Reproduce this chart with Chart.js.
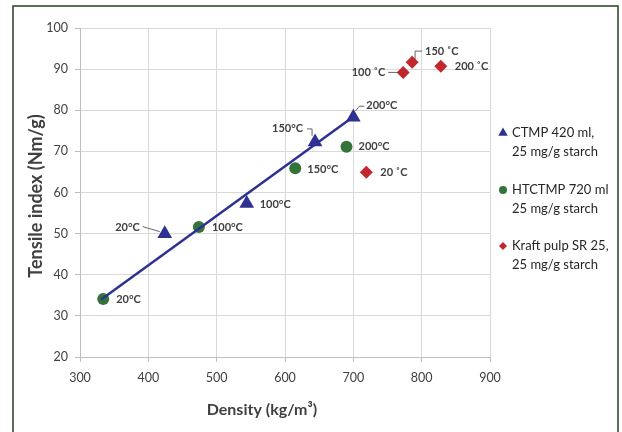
<!DOCTYPE html>
<html>
<head>
<meta charset="utf-8">
<script src="https://cdn.jsdelivr.net/npm/chart.js"></script>
<style>
  html, body { margin: 0; padding: 0; background: #fff; }
  #wrap { width: 622px; height: 432px; position: relative; }
</style>
</head>
<body>
<div id="wrap"><canvas id="tensileChart" width="622" height="432"></canvas></div>
<script>
// Tensile index vs density for three pulps, by drying temperature
const xTicks = [300, 400, 500, 600, 700, 800, 900];
const yTicks = [20, 30, 40, 50, 60, 70, 80, 90, 100];

const ctmpDensity = [424, 544, 644, 700];
const ctmpTensile = [50, 57.3, 72.3, 78.3];
const ctmpTemps = ['20°C', '100°C', '150°C', '200°C'];

const htctmpDensity = [334, 474, 615, 690];
const htctmpTensile = [34.1, 51.6, 65.9, 71.1];
const htctmpTemps = ['20°C', '100°C', '150°C', '200°C'];

const kraftDensity = [719, 773, 786, 828];
const kraftTensile = [64.9, 89.2, 91.7, 90.7];
const kraftTemps = ['20 ˚C', '100 ˚C', '150 ˚C', '200 ˚C'];

const trendDensity = [331, 700];
const trendTensile = [34.0, 78.4];

const legendLines = [
    ['CTMP 420 ml,', '25 mg/g starch'],
    ['HTCTMP 720 ml', '25 mg/g starch'],
    ['Kraft pulp SR 25,', '25 mg/g starch']
];

// label placement relative to each marker (px): text offset, alignment, optional leader path
const ctmpPlace = [
    { dx: -25, dy: -6, align: 'right', leader: [[-22, -7], [-5, -2]] },
    { dx: 13, dy: 1, align: 'left' },
    { dx: -12, dy: -13, align: 'right', leader: [[-8, -13], [-3, -13], [-3, -6]] },
    { dx: 13, dy: -12, align: 'left', leader: [[11, -11], [6, -11], [2, -6]] }
];
const htctmpPlace = [
    { dx: 13, dy: 0, align: 'left' },
    { dx: 13, dy: 0, align: 'left' },
    { dx: 12, dy: 1, align: 'left' },
    { dx: 12, dy: 0, align: 'left' }
];
const kraftPlace = [
    { dx: 14, dy: 0, align: 'left' },
    { dx: -18, dy: 0, align: 'right', leader: [[-15, 0], [-5, 0]] },
    { dx: 13, dy: -11, align: 'left', leader: [[10, -11], [3, -11], [3, -3]] },
    { dx: 14, dy: 0, align: 'left' }
];

const NAVY = '#2e3192';
const GREEN = '#34743a';
const RED = '#c1272d';
const FONT = 'Lato, "Open Sans", sans-serif';

function toPoints(xs, ys) {
    return xs.map((x, i) => ({ x: x, y: ys[i] }));
}

const pointLabels = {
    id: 'pointLabels',
    afterDatasetsDraw(chart) {
        const ctx = chart.ctx;
        const sets = [
            { idx: 1, temps: ctmpTemps, place: ctmpPlace },
            { idx: 2, temps: htctmpTemps, place: htctmpPlace },
            { idx: 3, temps: kraftTemps, place: kraftPlace }
        ];
        ctx.save();
        ctx.font = 'bold 11px ' + FONT;
        ctx.fillStyle = '#404040';
        ctx.strokeStyle = '#404040';
        ctx.lineWidth = 0.8;
        ctx.textBaseline = 'middle';
        sets.forEach(s => {
            const meta = chart.getDatasetMeta(s.idx);
            meta.data.forEach((el, i) => {
                const p = s.place[i];
                if (p.leader) {
                    ctx.beginPath();
                    p.leader.forEach((pt, k) => {
                        const fn = k === 0 ? 'moveTo' : 'lineTo';
                        ctx[fn](el.x + pt[0], el.y + pt[1]);
                    });
                    ctx.stroke();
                }
                ctx.textAlign = p.align;
                ctx.fillText(s.temps[i], el.x + p.dx, el.y + p.dy);
            });
        });
        ctx.restore();
    },
    afterDraw(chart) {
        const ctx = chart.ctx;
        ctx.save();

        // axis titles
        ctx.fillStyle = '#404040';
        ctx.textAlign = 'center';
        ctx.textBaseline = 'middle';
        ctx.save();
        ctx.font = 'bold 18px ' + FONT;
        ctx.translate(36, 196);
        ctx.rotate(-Math.PI / 2);
        ctx.fillText('Tensile index (Nm/g)', 0, 0);
        ctx.restore();
        ctx.font = 'bold 16px ' + FONT;
        ctx.fillText('Density (kg/m³)', 262, 410);

        // legend
        const markers = ['triangle', 'circle', 'rectRot'];
        const colors = [NAVY, GREEN, RED];
        const radii = [5.5, 4, 4];
        const rowY = [133, 190, 246];
        ctx.font = '13px ' + FONT;
        ctx.textAlign = 'left';
        legendLines.forEach((lines, i) => {
            ctx.fillStyle = colors[i];
            Chart.helpers.drawPoint(ctx, {
                pointStyle: markers[i], radius: radii[i], borderWidth: 0
            }, 503, rowY[i]);
            ctx.fillStyle = '#262626';
            lines.forEach((t, k) => ctx.fillText(t, 512, rowY[i] + k * 18.5));
        });

        // outer frame
        ctx.strokeStyle = '#24401f';
        ctx.lineWidth = 1.5;
        ctx.strokeRect(13, 6, 605, 440);
        ctx.restore();
    }
};

new Chart(document.getElementById('tensileChart'), {
    type: 'scatter',
    data: {
        datasets: [{
            type: 'line',
            label: 'trend',
            data: toPoints(trendDensity, trendTensile),
            borderColor: NAVY,
            borderWidth: 2.5,
            pointRadius: 0,
            fill: false,
            tension: 0
        }, {
            label: legendLines[0].join(' '),
            data: toPoints(ctmpDensity, ctmpTensile),
            pointStyle: 'triangle',
            pointRadius: 8.5,
            backgroundColor: NAVY,
            borderColor: NAVY,
            borderWidth: 0
        }, {
            label: legendLines[1].join(' '),
            data: toPoints(htctmpDensity, htctmpTensile),
            pointStyle: 'circle',
            pointRadius: 6,
            backgroundColor: GREEN,
            borderColor: GREEN,
            borderWidth: 0
        }, {
            label: legendLines[2].join(' '),
            data: toPoints(kraftDensity, kraftTensile),
            pointStyle: 'rectRot',
            pointRadius: 6.5,
            backgroundColor: RED,
            borderColor: RED,
            borderWidth: 0
        }]
    },
    options: {
        responsive: false,
        animation: false,
        events: [],
        layout: { padding: { left: 0, top: 28, right: 132, bottom: 0 } },
        plugins: {
            legend: { display: false },
            tooltip: { enabled: false }
        },
        scales: {
            x: {
                type: 'linear',
                min: xTicks[0],
                max: xTicks[xTicks.length - 1],
                afterFit(scale) { scale.height = 75; },
                afterBuildTicks(scale) { scale.ticks = xTicks.map(v => ({ value: v })); },
                grid: { color: '#d9d9d9', tickLength: 5, tickColor: '#bfbfbf' },
                border: { color: '#bfbfbf' },
                ticks: { font: { family: FONT, size: 12.5 }, color: '#404040', padding: 8 }
            },
            y: {
                type: 'linear',
                min: yTicks[0],
                max: yTicks[yTicks.length - 1],
                afterFit(scale) { scale.width = 80; },
                afterBuildTicks(scale) { scale.ticks = yTicks.map(v => ({ value: v })); },
                grid: { color: '#d9d9d9', tickLength: 5, tickColor: '#bfbfbf' },
                border: { color: '#bfbfbf' },
                ticks: { font: { family: FONT, size: 12.5 }, color: '#404040', padding: 7 }
            }
        }
    },
    plugins: [pointLabels]
});
</script>
</body>
</html>
